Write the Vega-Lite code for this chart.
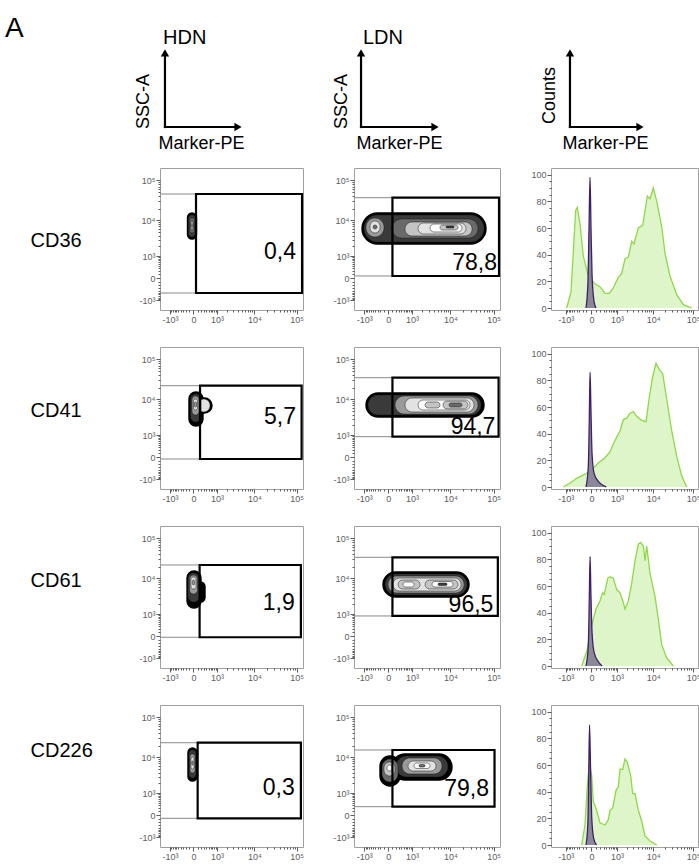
{
"$schema":"https://vega.github.io/schema/vega-lite/v6.json",
"padding":0,
"autosize":{"type":"pad"},
"background":"#ffffff",
"config":{
 "font":"Liberation Sans",
 "view":{"stroke":"#a0a0a0","strokeWidth":1},
 "axis":{"grid":false,"labelColor":"#606060","labelFontSize":9,"labelFont":"Liberation Sans","tickColor":"#333333","tickWidth":0.8,"domainColor":"#888888","labelOverlap":false,"labelFlush":false,"labelBound":false,"labelPadding":1,"titleFont":"Liberation Sans","titleFontWeight":"normal","titleColor":"#000000"},
 "title":{"font":"Liberation Sans","fontWeight":"normal","color":"#000000"}
},
"datasets":{
 "arrows":[{"x":0,"y":0,"x2":1,"y2":0,"head":"triangle-right"},{"x":0,"y":0,"x2":0,"y2":1,"head":"triangle-up"}],
 "dots":[
  {"p":"CD36 HDN","k":"c","x":-151,"x2":70,"y":3256,"y2":15450,"lvl":0},
  {"p":"CD36 HDN","k":"c","x":-124,"x2":46,"y":3694,"y2":13760,"lvl":1},
  {"p":"CD36 HDN","k":"c","x":-94,"x2":23,"y":4729,"y2":11540,"lvl":2},
  {"p":"CD36 HDN","k":"c","x":-69,"x2":0,"y":5670,"y2":9690,"lvl":3},
  {"p":"CD36 HDN","k":"c","x":-49,"x2":-17,"y":6800,"y2":8110,"lvl":4},
  {"p":"CD36 HDN","k":"l","x":-2000,"x2":58,"y":45800},
  {"p":"CD36 HDN","k":"l","x":-2000,"x2":58,"y":-521},
  {"p":"CD36 HDN","k":"g","x":58,"x2":133000,"y":-521,"y2":45800},
  {"p":"CD36 HDN","k":"t","x":96000,"y":780,"label":"0,4"},
  {"p":"CD36 LDN","k":"c","x":-1178,"x2":67100,"y":2360,"y2":15450,"lvl":0},
  {"p":"CD36 LDN","k":"c","x":-1019,"x2":60400,"y":2684,"y2":13760,"lvl":1},
  {"p":"CD36 LDN","k":"c","x":-880,"x2":-98,"y":3694,"y2":11540,"lvl":3},
  {"p":"CD36 LDN","k":"c","x":-638,"x2":-214,"y":4729,"y2":9690,"lvl":5},
  {"p":"CD36 LDN","k":"c","x":-485,"x2":-318,"y":6028,"y2":7650,"lvl":2},
  {"p":"CD36 LDN","k":"c","x":89,"x2":43960,"y":3460,"y2":10900,"lvl":2},
  {"p":"CD36 LDN","k":"c","x":566,"x2":32040,"y":3926,"y2":9130,"lvl":4},
  {"p":"CD36 LDN","k":"c","x":1510,"x2":23280,"y":4444,"y2":8616,"lvl":5},
  {"p":"CD36 LDN","k":"c","x":3180,"x2":18790,"y":5020,"y2":8110,"lvl":6},
  {"p":"CD36 LDN","k":"c","x":5650,"x2":15160,"y":5670,"y2":7650,"lvl":4},
  {"p":"CD36 LDN","k":"c","x":7900,"x2":12220,"y":6390,"y2":7204,"lvl":1},
  {"p":"CD36 LDN","k":"l","x":-2000,"x2":100,"y":37100},
  {"p":"CD36 LDN","k":"l","x":-2000,"x2":100,"y":54},
  {"p":"CD36 LDN","k":"g","x":100,"x2":133000,"y":54,"y2":37100},
  {"p":"CD36 LDN","k":"t","x":119800,"y":237,"label":"78,8"},
  {"p":"CD41 HDN","k":"c","x":34,"x2":679,"y":4444,"y2":10900,"lvl":0},
  {"p":"CD41 HDN","k":"c","x":-109,"x2":265,"y":1928,"y2":15450,"lvl":0},
  {"p":"CD41 HDN","k":"c","x":97,"x2":568,"y":4729,"y2":10260,"lvl":5},
  {"p":"CD41 HDN","k":"c","x":-69,"x2":198,"y":2518,"y2":13760,"lvl":1},
  {"p":"CD41 HDN","k":"c","x":-33,"x2":138,"y":3926,"y2":12249,"lvl":3},
  {"p":"CD41 HDN","k":"c","x":0,"x2":97,"y":5340,"y2":10260,"lvl":5},
  {"p":"CD41 HDN","k":"c","x":23,"x2":70,"y":6390,"y2":8616,"lvl":3},
  {"p":"CD41 HDN","k":"l","x":-2000,"x2":168,"y":22200},
  {"p":"CD41 HDN","k":"l","x":-2000,"x2":168,"y":-42},
  {"p":"CD41 HDN","k":"g","x":168,"x2":130000,"y":-42,"y2":22200},
  {"p":"CD41 HDN","k":"t","x":96000,"y":2170,"label":"5,7"},
  {"p":"CD41 LDN","k":"c","x":-880,"x2":60400,"y":3460,"y2":14560,"lvl":0},
  {"p":"CD41 LDN","k":"c","x":-751,"x2":51600,"y":3926,"y2":12970,"lvl":1},
  {"p":"CD41 LDN","k":"c","x":173,"x2":43960,"y":4180,"y2":12249,"lvl":3},
  {"p":"CD41 LDN","k":"c","x":566,"x2":35560,"y":4729,"y2":10900,"lvl":5},
  {"p":"CD41 LDN","k":"c","x":1510,"x2":28770,"y":5340,"y2":9690,"lvl":6},
  {"p":"CD41 LDN","k":"c","x":2360,"x2":5650,"y":6028,"y2":8616,"lvl":4},
  {"p":"CD41 LDN","k":"c","x":6680,"x2":25900,"y":5670,"y2":9130,"lvl":4},
  {"p":"CD41 LDN","k":"c","x":9300,"x2":18790,"y":6390,"y2":8110,"lvl":2},
  {"p":"CD41 LDN","k":"l","x":-2000,"x2":100,"y":35100},
  {"p":"CD41 LDN","k":"l","x":-2000,"x2":100,"y":874},
  {"p":"CD41 LDN","k":"g","x":100,"x2":130000,"y":874,"y2":35100},
  {"p":"CD41 LDN","k":"t","x":110000,"y":1083,"label":"94,7"},
  {"p":"CD61 HDN","k":"c","x":58,"x2":341,"y":2360,"y2":8110,"lvl":0},
  {"p":"CD61 HDN","k":"c","x":-165,"x2":198,"y":1571,"y2":15450,"lvl":0},
  {"p":"CD61 HDN","k":"c","x":-137,"x2":152,"y":2360,"y2":13760,"lvl":1},
  {"p":"CD61 HDN","k":"c","x":-94,"x2":97,"y":3926,"y2":12249,"lvl":3},
  {"p":"CD61 HDN","k":"c","x":-57,"x2":58,"y":5340,"y2":10900,"lvl":5},
  {"p":"CD61 HDN","k":"c","x":-25,"x2":27,"y":6800,"y2":9130,"lvl":3},
  {"p":"CD61 HDN","k":"l","x":-2000,"x2":155,"y":21840},
  {"p":"CD61 HDN","k":"l","x":-2000,"x2":155,"y":-24},
  {"p":"CD61 HDN","k":"g","x":155,"x2":125000,"y":-24,"y2":21840},
  {"p":"CD61 HDN","k":"t","x":90000,"y":1358,"label":"1,9"},
  {"p":"CD61 LDN","k":"c","x":-125,"x2":27280,"y":3256,"y2":14560,"lvl":0},
  {"p":"CD61 LDN","k":"c","x":-72,"x2":24560,"y":3694,"y2":12970,"lvl":1},
  {"p":"CD61 LDN","k":"c","x":-4,"x2":20920,"y":4180,"y2":11540,"lvl":3},
  {"p":"CD61 LDN","k":"c","x":115,"x2":17840,"y":4729,"y2":10260,"lvl":5},
  {"p":"CD61 LDN","k":"c","x":270,"x2":1722,"y":5340,"y2":9130,"lvl":4},
  {"p":"CD61 LDN","k":"c","x":471,"x2":1149,"y":6028,"y2":8110,"lvl":6},
  {"p":"CD61 LDN","k":"c","x":2360,"x2":15160,"y":5340,"y2":9130,"lvl":4},
  {"p":"CD61 LDN","k":"c","x":3580,"x2":11560,"y":6028,"y2":8360,"lvl":6},
  {"p":"CD61 LDN","k":"c","x":5060,"x2":8350,"y":6590,"y2":7650,"lvl":1},
  {"p":"CD61 LDN","k":"l","x":-2000,"x2":100,"y":33900},
  {"p":"CD61 LDN","k":"l","x":-2000,"x2":100,"y":855},
  {"p":"CD61 LDN","k":"g","x":100,"x2":125000,"y":855,"y2":33900},
  {"p":"CD61 LDN","k":"t","x":98700,"y":1140,"label":"96,5"},
  {"p":"CD226 HDN","k":"c","x":-137,"x2":83,"y":2360,"y2":17350,"lvl":0},
  {"p":"CD226 HDN","k":"c","x":-109,"x2":58,"y":2868,"y2":15450,"lvl":1},
  {"p":"CD226 HDN","k":"c","x":-82,"x2":34,"y":3926,"y2":12249,"lvl":3},
  {"p":"CD226 HDN","k":"c","x":-57,"x2":11,"y":5020,"y2":10260,"lvl":5},
  {"p":"CD226 HDN","k":"c","x":-38,"x2":-5,"y":6390,"y2":8110,"lvl":3},
  {"p":"CD226 HDN","k":"l","x":-2000,"x2":100,"y":23480},
  {"p":"CD226 HDN","k":"l","x":-2000,"x2":100,"y":-76},
  {"p":"CD226 HDN","k":"g","x":100,"x2":125000,"y":-76,"y2":23480},
  {"p":"CD226 HDN","k":"t","x":90000,"y":855,"label":"0,3"},
  {"p":"CD226 LDN","k":"c","x":-214,"x2":344,"y":1680,"y2":10900,"lvl":0},
  {"p":"CD226 LDN","k":"c","x":89,"x2":10960,"y":2518,"y2":12249,"lvl":0},
  {"p":"CD226 LDN","k":"c","x":203,"x2":8800,"y":3060,"y2":10900,"lvl":1},
  {"p":"CD226 LDN","k":"c","x":426,"x2":6330,"y":3694,"y2":9690,"lvl":3},
  {"p":"CD226 LDN","k":"c","x":730,"x2":4510,"y":4444,"y2":8110,"lvl":5},
  {"p":"CD226 LDN","k":"c","x":1149,"x2":3180,"y":5180,"y2":7204,"lvl":6},
  {"p":"CD226 LDN","k":"c","x":1614,"x2":2360,"y":5670,"y2":6590,"lvl":2},
  {"p":"CD226 LDN","k":"c","x":-152,"x2":270,"y":2213,"y2":9130,"lvl":2},
  {"p":"CD226 LDN","k":"c","x":-98,"x2":173,"y":3256,"y2":7650,"lvl":4},
  {"p":"CD226 LDN","k":"c","x":-25,"x2":89,"y":4444,"y2":6390,"lvl":6},
  {"p":"CD226 LDN","k":"l","x":-2000,"x2":100,"y":15450},
  {"p":"CD226 LDN","k":"l","x":-2000,"x2":100,"y":248},
  {"p":"CD226 LDN","k":"g","x":100,"x2":105000,"y":248,"y2":15450},
  {"p":"CD226 LDN","k":"t","x":78700,"y":780,"label":"79,8"}
 ],
 "hist":[
  {"p":"CD36","s":"marker","v":-937,"c":0},{"p":"CD36","s":"marker","v":-668,"c":12},{"p":"CD36","s":"marker","v":-548,"c":42},{"p":"CD36","s":"marker","v":-440,"c":73},{"p":"CD36","s":"marker","v":-375,"c":75.5},{"p":"CD36","s":"marker","v":-278,"c":63},{"p":"CD36","s":"marker","v":-179,"c":39},{"p":"CD36","s":"marker","v":-60,"c":24},{"p":"CD36","s":"marker","v":68,"c":18},{"p":"CD36","s":"marker","v":189,"c":16},{"p":"CD36","s":"marker","v":352,"c":11},{"p":"CD36","s":"marker","v":532,"c":11},{"p":"CD36","s":"marker","v":747,"c":15},{"p":"CD36","s":"marker","v":1094,"c":23},{"p":"CD36","s":"marker","v":1395,"c":26},{"p":"CD36","s":"marker","v":1746,"c":37},{"p":"CD36","s":"marker","v":2172,"c":38},{"p":"CD36","s":"marker","v":2700,"c":50},{"p":"CD36","s":"marker","v":3120,"c":48},{"p":"CD36","s":"marker","v":4077,"c":60},{"p":"CD36","s":"marker","v":5340,"c":62},{"p":"CD36","s":"marker","v":7030,"c":84},{"p":"CD36","s":"marker","v":8250,"c":82},{"p":"CD36","s":"marker","v":10030,"c":90},{"p":"CD36","s":"marker","v":12270,"c":80},{"p":"CD36","s":"marker","v":16420,"c":61},{"p":"CD36","s":"marker","v":19900,"c":41},{"p":"CD36","s":"marker","v":26500,"c":24},{"p":"CD36","s":"marker","v":39150,"c":10},{"p":"CD36","s":"marker","v":57270,"c":2.5},{"p":"CD36","s":"marker","v":92900,"c":0},
  {"p":"CD36","s":"iso","v":-110,"c":0},{"p":"CD36","s":"iso","v":-66,"c":20},{"p":"CD36","s":"iso","v":-45,"c":60},{"p":"CD36","s":"iso","v":-26,"c":98},{"p":"CD36","s":"iso","v":-8,"c":60},{"p":"CD36","s":"iso","v":10,"c":25},{"p":"CD36","s":"iso","v":47,"c":5},{"p":"CD36","s":"iso","v":89,"c":0},
  {"p":"CD41","s":"marker","v":-1203,"c":0},{"p":"CD41","s":"marker","v":-723,"c":3},{"p":"CD41","s":"marker","v":-398,"c":6.5},{"p":"CD41","s":"marker","v":-135,"c":9.6},{"p":"CD41","s":"marker","v":4,"c":13},{"p":"CD41","s":"marker","v":144,"c":18},{"p":"CD41","s":"marker","v":352,"c":22},{"p":"CD41","s":"marker","v":567,"c":26.5},{"p":"CD41","s":"marker","v":854,"c":35},{"p":"CD41","s":"marker","v":1235,"c":42},{"p":"CD41","s":"marker","v":1558,"c":50.6},{"p":"CD41","s":"marker","v":1955,"c":51.6},{"p":"CD41","s":"marker","v":2424,"c":55.4},{"p":"CD41","s":"marker","v":2989,"c":56.6},{"p":"CD41","s":"marker","v":3700,"c":53},{"p":"CD41","s":"marker","v":5022,"c":50},{"p":"CD41","s":"marker","v":6510,"c":49},{"p":"CD41","s":"marker","v":7930,"c":67.5},{"p":"CD41","s":"marker","v":9680,"c":83},{"p":"CD41","s":"marker","v":11760,"c":92.8},{"p":"CD41","s":"marker","v":14260,"c":88},{"p":"CD41","s":"marker","v":17400,"c":85},{"p":"CD41","s":"marker","v":21940,"c":66},{"p":"CD41","s":"marker","v":29340,"c":42},{"p":"CD41","s":"marker","v":39150,"c":23},{"p":"CD41","s":"marker","v":52200,"c":8.4},{"p":"CD41","s":"marker","v":69550,"c":0},
  {"p":"CD41","s":"iso","v":-110,"c":0},{"p":"CD41","s":"iso","v":-60,"c":15},{"p":"CD41","s":"iso","v":-40,"c":50},{"p":"CD41","s":"iso","v":-25,"c":86},{"p":"CD41","s":"iso","v":-10,"c":60},{"p":"CD41","s":"iso","v":10,"c":25},{"p":"CD41","s":"iso","v":50,"c":10},{"p":"CD41","s":"iso","v":150,"c":4},{"p":"CD41","s":"iso","v":300,"c":1},{"p":"CD41","s":"iso","v":400,"c":0},
  {"p":"CD61","s":"marker","v":-225,"c":0},{"p":"CD61","s":"marker","v":-94,"c":11},{"p":"CD61","s":"marker","v":4,"c":30.5},{"p":"CD61","s":"marker","v":89,"c":42.7},{"p":"CD61","s":"marker","v":189,"c":48.8},{"p":"CD61","s":"marker","v":270,"c":55},{"p":"CD61","s":"marker","v":325,"c":53.6},{"p":"CD61","s":"marker","v":460,"c":65.8},{"p":"CD61","s":"marker","v":567,"c":67},{"p":"CD61","s":"marker","v":747,"c":65.8},{"p":"CD61","s":"marker","v":971,"c":57.3},{"p":"CD61","s":"marker","v":1235,"c":55},{"p":"CD61","s":"marker","v":1558,"c":47.6},{"p":"CD61","s":"marker","v":1746,"c":42.7},{"p":"CD61","s":"marker","v":2172,"c":48.8},{"p":"CD61","s":"marker","v":2700,"c":62},{"p":"CD61","s":"marker","v":3324,"c":79},{"p":"CD61","s":"marker","v":4077,"c":91.4},{"p":"CD61","s":"marker","v":4725,"c":92.7},{"p":"CD61","s":"marker","v":5535,"c":90},{"p":"CD61","s":"marker","v":6130,"c":79},{"p":"CD61","s":"marker","v":6780,"c":90},{"p":"CD61","s":"marker","v":8250,"c":69.5},{"p":"CD61","s":"marker","v":11100,"c":52},{"p":"CD61","s":"marker","v":13470,"c":35},{"p":"CD61","s":"marker","v":16420,"c":16},{"p":"CD61","s":"marker","v":21940,"c":6},{"p":"CD61","s":"marker","v":32140,"c":0},
  {"p":"CD61","s":"iso","v":-110,"c":0},{"p":"CD61","s":"iso","v":-60,"c":15},{"p":"CD61","s":"iso","v":-40,"c":50},{"p":"CD61","s":"iso","v":-25,"c":82},{"p":"CD61","s":"iso","v":-10,"c":55},{"p":"CD61","s":"iso","v":10,"c":25},{"p":"CD61","s":"iso","v":50,"c":10},{"p":"CD61","s":"iso","v":150,"c":3},{"p":"CD61","s":"iso","v":250,"c":0},
  {"p":"CD226","s":"marker","v":-225,"c":0},{"p":"CD226","s":"marker","v":-135,"c":15},{"p":"CD226","s":"marker","v":-80,"c":44.6},{"p":"CD226","s":"marker","v":-40,"c":61.7},{"p":"CD226","s":"marker","v":4,"c":52},{"p":"CD226","s":"marker","v":34,"c":32.4},{"p":"CD226","s":"marker","v":89,"c":27.6},{"p":"CD226","s":"marker","v":144,"c":21.4},{"p":"CD226","s":"marker","v":189,"c":16.6},{"p":"CD226","s":"marker","v":352,"c":15},{"p":"CD226","s":"marker","v":487,"c":19},{"p":"CD226","s":"marker","v":567,"c":26},{"p":"CD226","s":"marker","v":712,"c":27.6},{"p":"CD226","s":"marker","v":922,"c":41},{"p":"CD226","s":"marker","v":1094,"c":43.6},{"p":"CD226","s":"marker","v":1235,"c":56.8},{"p":"CD226","s":"marker","v":1494,"c":56.8},{"p":"CD226","s":"marker","v":1746,"c":64.6},{"p":"CD226","s":"marker","v":2034,"c":62},{"p":"CD226","s":"marker","v":2532,"c":52},{"p":"CD226","s":"marker","v":2877,"c":38.5},{"p":"CD226","s":"marker","v":3324,"c":38.5},{"p":"CD226","s":"marker","v":4077,"c":26.3},{"p":"CD226","s":"marker","v":5022,"c":17.8},{"p":"CD226","s":"marker","v":6130,"c":6.8},{"p":"CD226","s":"marker","v":8250,"c":3},{"p":"CD226","s":"marker","v":12270,"c":0},
  {"p":"CD226","s":"iso","v":-110,"c":0},{"p":"CD226","s":"iso","v":-70,"c":15},{"p":"CD226","s":"iso","v":-50,"c":55},{"p":"CD226","s":"iso","v":-35,"c":90},{"p":"CD226","s":"iso","v":-15,"c":55},{"p":"CD226","s":"iso","v":5,"c":20},{"p":"CD226","s":"iso","v":40,"c":5},{"p":"CD226","s":"iso","v":100,"c":0}
 ]
},
"columns":4,
"spacing":{"row":37,"column":51},
"align":"each",
"bounds":"flush",
"concat":[
 {"width":109,"height":131,"view":{"stroke":null},"title":{"text":"A","anchor":"start","fontSize":28,"offset":-65,"baseline":"alphabetic","dx":5},"data":{"values":[{"t":""}]},"mark":"text","encoding":{"text":{"field":"t"}}},
 {"width":143,"height":131,"view":{"stroke":null},"title":{"text":"HDN","anchor":"start","frame":"group","fontSize":20,"offset":-64,"baseline":"alphabetic","dx":3},"data":{"name":"arrows"},
  "layer":[
   {"mark":{"type":"rule","color":"#000000","strokeWidth":2.2,"strokeCap":"square"},
    "encoding":{"x":{"field":"x","type":"quantitative","scale":{"domain":[-0.068,1.89],"nice":false,"zero":false},"axis":{"title":"Marker-PE","domain":false,"ticks":false,"labels":false,"titleX":-2,"titleY":17,"titleAlign":"left","titleBaseline":"alphabetic","titleFontSize":18}},"x2":{"field":"x2"},
     "y":{"field":"y","type":"quantitative","scale":{"domain":[-0.054,1.716],"nice":false,"zero":false},"axis":{"title":"SSC-A","domain":false,"ticks":false,"labels":false,"titleAngle":270,"titleX":-17,"titleY":101,"titleAlign":"center","titleBaseline":"middle","titleFontSize":18}},"y2":{"field":"y2"}}},
   {"mark":{"type":"point","filled":true,"color":"#000000","size":70,"opacity":1},
    "encoding":{"x":{"field":"x2","type":"quantitative"},"y":{"field":"y2","type":"quantitative"},"shape":{"field":"head","type":"nominal","scale":null}}}
  ]},
 {"width":146,"height":131,"view":{"stroke":null},"title":{"text":"LDN","anchor":"start","frame":"group","fontSize":20,"offset":-64,"baseline":"alphabetic","dx":9},"data":{"name":"arrows"},
  "layer":[
   {"mark":{"type":"rule","color":"#000000","strokeWidth":2.2,"strokeCap":"square"},
    "encoding":{"x":{"field":"x","type":"quantitative","scale":{"domain":[-0.095,1.878],"nice":false,"zero":false},"axis":{"title":"Marker-PE","domain":false,"ticks":false,"labels":false,"titleX":2,"titleY":17,"titleAlign":"left","titleBaseline":"alphabetic","titleFontSize":18}},"x2":{"field":"x2"},
     "y":{"field":"y","type":"quantitative","scale":{"domain":[-0.054,1.716],"nice":false,"zero":false},"axis":{"title":"SSC-A","domain":false,"ticks":false,"labels":false,"titleAngle":270,"titleX":-13,"titleY":101,"titleAlign":"center","titleBaseline":"middle","titleFontSize":18}},"y2":{"field":"y2"}}},
   {"mark":{"type":"point","filled":true,"color":"#000000","size":70,"opacity":1},
    "encoding":{"x":{"field":"x2","type":"quantitative"},"y":{"field":"y2","type":"quantitative"},"shape":{"field":"head","type":"nominal","scale":null}}}
  ]},
 {"width":147,"height":131,"view":{"stroke":null},"data":{"name":"arrows"},
  "layer":[
   {"mark":{"type":"rule","color":"#000000","strokeWidth":2.2,"strokeCap":"square"},
    "encoding":{"x":{"field":"x","type":"quantitative","scale":{"domain":[-0.271,1.829],"nice":false,"zero":false},"axis":{"title":"Marker-PE","domain":false,"ticks":false,"labels":false,"titleX":11,"titleY":17,"titleAlign":"left","titleBaseline":"alphabetic","titleFontSize":18}},"x2":{"field":"x2"},
     "y":{"field":"y","type":"quantitative","scale":{"domain":[-0.054,1.716],"nice":false,"zero":false},"axis":{"title":"Counts","domain":false,"ticks":false,"labels":false,"titleAngle":270,"titleX":-2,"titleY":95,"titleAlign":"center","titleBaseline":"middle","titleFontSize":18}},"y2":{"field":"y2"}}},
   {"mark":{"type":"point","filled":true,"color":"#000000","size":70,"opacity":1},
    "encoding":{"x":{"field":"x2","type":"quantitative"},"y":{"field":"y2","type":"quantitative"},"shape":{"field":"head","type":"nominal","scale":null}}}
  ]},

 {"width":109,"height":142,"view":{"stroke":null},"data":{"values":[{"t":""}]},"mark":"text","encoding":{"text":{"field":"t"}}},
 {"width":143,"height":142,"data":{"name":"dots"},"transform":[{"filter":"datum.p=='CD36 HDN'"}],
  "encoding":{"x":{"field":"x","type":"quantitative","scale":{"type":"symlog","constant":400,"domain":[-2000,140000],"nice":false,"zero":false},"axis":{"values":[-1000,-900,-800,-700,-600,-500,-400,-300,-200,-100,0,100,200,300,400,500,600,700,800,900,1000,2000,3000,4000,5000,6000,7000,8000,9000,10000,20000,30000,40000,50000,60000,70000,80000,90000,100000],"labelExpr":"datum.value==100000?'10⁵':datum.value==10000?'10⁴':datum.value==1000?'10³':datum.value==0?'0':datum.value==-1000?'-10³':''","tickSize":{"condition":{"test":"indexof([-1000,0,1000,10000,100000],datum.value)>=0","value":4},"value":2},"domain":false,"title":null}},
   "y":{"field":"y","type":"quantitative","scale":{"type":"symlog","constant":400,"domain":[-2000,200000],"nice":false,"zero":false},"axis":{"values":[-1000,-900,-800,-700,-600,-500,-400,-300,-200,-100,0,100,200,300,400,500,600,700,800,900,1000,2000,3000,4000,5000,6000,7000,8000,9000,10000,20000,30000,40000,50000,60000,70000,80000,90000,100000],"labelExpr":"datum.value==100000?'10⁵':datum.value==10000?'10⁴':datum.value==1000?'10³':datum.value==0?'0':datum.value==-1000?'-10³':''","tickSize":{"condition":{"test":"indexof([-1000,0,1000,10000,100000],datum.value)>=0","value":4},"value":2},"domain":false,"title":"CD36","titleAngle":0,"titleAlign":"left","titleBaseline":"middle","titleX":-130,"titleY":72,"titleFontSize":20}}},
  "layer":[
   {"transform":[{"filter":"datum.k=='c'"}],"mark":{"type":"rect","cornerRadius":80},"encoding":{"x2":{"field":"x2"},"y2":{"field":"y2"},"fill":{"field":"lvl","type":"ordinal","scale":{"domain":[0,1,2,3,4,5,6],"range":["#000000","#3a3a3a","#6a6a6a","#9a9a9a","#c4c4c4","#e2e2e2","#fbfbfb"]},"legend":null},"stroke":{"condition":{"test":"datum.lvl==0","value":"#000000"},"value":"#1a1a1a"},"strokeWidth":{"condition":{"test":"datum.lvl==0","value":1.4},"value":0.5}}},
   {"transform":[{"filter":"datum.k=='l'"}],"mark":{"type":"rule","color":"#8a8a8a","strokeWidth":1},"encoding":{"x2":{"field":"x2"}}},
   {"transform":[{"filter":"datum.k=='g'"}],"mark":{"type":"rect","filled":false,"stroke":"#000000","strokeWidth":2.2},"encoding":{"x2":{"field":"x2"},"y2":{"field":"y2"}}},
   {"transform":[{"filter":"datum.k=='t'"}],"mark":{"type":"text","align":"right","baseline":"alphabetic","fontSize":23,"color":"#000000"},"encoding":{"text":{"field":"label"}}}
  ]},
 {"width":146,"height":142,"data":{"name":"dots"},"transform":[{"filter":"datum.p=='CD36 LDN'"}],
  "encoding":{"x":{"field":"x","type":"quantitative","scale":{"type":"symlog","constant":400,"domain":[-2000,140000],"nice":false,"zero":false},"axis":{"values":[-1000,-900,-800,-700,-600,-500,-400,-300,-200,-100,0,100,200,300,400,500,600,700,800,900,1000,2000,3000,4000,5000,6000,7000,8000,9000,10000,20000,30000,40000,50000,60000,70000,80000,90000,100000],"labelExpr":"datum.value==100000?'10⁵':datum.value==10000?'10⁴':datum.value==1000?'10³':datum.value==0?'0':datum.value==-1000?'-10³':''","tickSize":{"condition":{"test":"indexof([-1000,0,1000,10000,100000],datum.value)>=0","value":4},"value":2},"domain":false,"title":null}},
   "y":{"field":"y","type":"quantitative","scale":{"type":"symlog","constant":400,"domain":[-2000,200000],"nice":false,"zero":false},"axis":{"values":[-1000,-900,-800,-700,-600,-500,-400,-300,-200,-100,0,100,200,300,400,500,600,700,800,900,1000,2000,3000,4000,5000,6000,7000,8000,9000,10000,20000,30000,40000,50000,60000,70000,80000,90000,100000],"labelExpr":"datum.value==100000?'10⁵':datum.value==10000?'10⁴':datum.value==1000?'10³':datum.value==0?'0':datum.value==-1000?'-10³':''","tickSize":{"condition":{"test":"indexof([-1000,0,1000,10000,100000],datum.value)>=0","value":4},"value":2},"domain":false,"title":null}}},
  "layer":[
   {"transform":[{"filter":"datum.k=='c'"}],"mark":{"type":"rect","cornerRadius":80},"encoding":{"x2":{"field":"x2"},"y2":{"field":"y2"},"fill":{"field":"lvl","type":"ordinal","scale":{"domain":[0,1,2,3,4,5,6],"range":["#000000","#3a3a3a","#6a6a6a","#9a9a9a","#c4c4c4","#e2e2e2","#fbfbfb"]},"legend":null},"stroke":{"condition":{"test":"datum.lvl==0","value":"#000000"},"value":"#1a1a1a"},"strokeWidth":{"condition":{"test":"datum.lvl==0","value":1.4},"value":0.5}}},
   {"transform":[{"filter":"datum.k=='l'"}],"mark":{"type":"rule","color":"#8a8a8a","strokeWidth":1},"encoding":{"x2":{"field":"x2"}}},
   {"transform":[{"filter":"datum.k=='g'"}],"mark":{"type":"rect","filled":false,"stroke":"#000000","strokeWidth":2.2},"encoding":{"x2":{"field":"x2"},"y2":{"field":"y2"}}},
   {"transform":[{"filter":"datum.k=='t'"}],"mark":{"type":"text","align":"right","baseline":"alphabetic","fontSize":23,"color":"#000000"},"encoding":{"text":{"field":"label"}}}
  ]},
 {"width":147,"height":142,"data":{"name":"hist"},"transform":[{"filter":"datum.p=='CD36'"}],
  "encoding":{"x":{"field":"v","type":"quantitative","scale":{"type":"symlog","constant":300,"domain":[-2740,133000],"nice":false,"zero":false},"axis":{"values":[-1000,-900,-800,-700,-600,-500,-400,-300,-200,-100,0,100,200,300,400,500,600,700,800,900,1000,2000,3000,4000,5000,6000,7000,8000,9000,10000,20000,30000,40000,50000,60000,70000,80000,90000,100000],"labelExpr":"datum.value==100000?'10⁵':datum.value==10000?'10⁴':datum.value==1000?'10³':datum.value==0?'0':datum.value==-1000?'-10³':''","tickSize":{"condition":{"test":"indexof([-1000,0,1000,10000,100000],datum.value)>=0","value":4},"value":2},"domain":false,"title":null}},
   "y":{"field":"c","type":"quantitative","scale":{"domain":[-1.5,105],"nice":false},"axis":{"values":[0,5,10,15,20,25,30,35,40,45,50,55,60,65,70,75,80,85,90,95,100],"labelExpr":"datum.value%20==0?datum.label:''","tickSize":{"condition":{"test":"datum.value%20==0","value":4},"value":2},"domain":false,"title":null}}},
  "layer":[
   {"transform":[{"filter":"datum.s=='marker'"}],"mark":{"type":"area","color":"#def5c9","opacity":1,"line":{"color":"#8fd947","strokeWidth":1.3}}},
   {"transform":[{"filter":"datum.s=='iso'"}],"mark":{"type":"area","color":"#8c8996","opacity":1,"interpolate":"monotone","line":{"color":"#3e1f6e","strokeWidth":1.3}}}
  ]},

 {"width":109,"height":142,"view":{"stroke":null},"data":{"values":[{"t":""}]},"mark":"text","encoding":{"text":{"field":"t"}}},
 {"width":143,"height":142,"data":{"name":"dots"},"transform":[{"filter":"datum.p=='CD41 HDN'"}],
  "encoding":{"x":{"field":"x","type":"quantitative","scale":{"type":"symlog","constant":400,"domain":[-2000,140000],"nice":false,"zero":false},"axis":{"values":[-1000,-900,-800,-700,-600,-500,-400,-300,-200,-100,0,100,200,300,400,500,600,700,800,900,1000,2000,3000,4000,5000,6000,7000,8000,9000,10000,20000,30000,40000,50000,60000,70000,80000,90000,100000],"labelExpr":"datum.value==100000?'10⁵':datum.value==10000?'10⁴':datum.value==1000?'10³':datum.value==0?'0':datum.value==-1000?'-10³':''","tickSize":{"condition":{"test":"indexof([-1000,0,1000,10000,100000],datum.value)>=0","value":4},"value":2},"domain":false,"title":null}},
   "y":{"field":"y","type":"quantitative","scale":{"type":"symlog","constant":400,"domain":[-2000,200000],"nice":false,"zero":false},"axis":{"values":[-1000,-900,-800,-700,-600,-500,-400,-300,-200,-100,0,100,200,300,400,500,600,700,800,900,1000,2000,3000,4000,5000,6000,7000,8000,9000,10000,20000,30000,40000,50000,60000,70000,80000,90000,100000],"labelExpr":"datum.value==100000?'10⁵':datum.value==10000?'10⁴':datum.value==1000?'10³':datum.value==0?'0':datum.value==-1000?'-10³':''","tickSize":{"condition":{"test":"indexof([-1000,0,1000,10000,100000],datum.value)>=0","value":4},"value":2},"domain":false,"title":"CD41","titleAngle":0,"titleAlign":"left","titleBaseline":"middle","titleX":-130,"titleY":63,"titleFontSize":20}}},
  "layer":[
   {"transform":[{"filter":"datum.k=='c'"}],"mark":{"type":"rect","cornerRadius":80},"encoding":{"x2":{"field":"x2"},"y2":{"field":"y2"},"fill":{"field":"lvl","type":"ordinal","scale":{"domain":[0,1,2,3,4,5,6],"range":["#000000","#3a3a3a","#6a6a6a","#9a9a9a","#c4c4c4","#e2e2e2","#fbfbfb"]},"legend":null},"stroke":{"condition":{"test":"datum.lvl==0","value":"#000000"},"value":"#1a1a1a"},"strokeWidth":{"condition":{"test":"datum.lvl==0","value":1.4},"value":0.5}}},
   {"transform":[{"filter":"datum.k=='l'"}],"mark":{"type":"rule","color":"#8a8a8a","strokeWidth":1},"encoding":{"x2":{"field":"x2"}}},
   {"transform":[{"filter":"datum.k=='g'"}],"mark":{"type":"rect","filled":false,"stroke":"#000000","strokeWidth":2.2},"encoding":{"x2":{"field":"x2"},"y2":{"field":"y2"}}},
   {"transform":[{"filter":"datum.k=='t'"}],"mark":{"type":"text","align":"right","baseline":"alphabetic","fontSize":23,"color":"#000000"},"encoding":{"text":{"field":"label"}}}
  ]},
 {"width":146,"height":142,"data":{"name":"dots"},"transform":[{"filter":"datum.p=='CD41 LDN'"}],
  "encoding":{"x":{"field":"x","type":"quantitative","scale":{"type":"symlog","constant":400,"domain":[-2000,140000],"nice":false,"zero":false},"axis":{"values":[-1000,-900,-800,-700,-600,-500,-400,-300,-200,-100,0,100,200,300,400,500,600,700,800,900,1000,2000,3000,4000,5000,6000,7000,8000,9000,10000,20000,30000,40000,50000,60000,70000,80000,90000,100000],"labelExpr":"datum.value==100000?'10⁵':datum.value==10000?'10⁴':datum.value==1000?'10³':datum.value==0?'0':datum.value==-1000?'-10³':''","tickSize":{"condition":{"test":"indexof([-1000,0,1000,10000,100000],datum.value)>=0","value":4},"value":2},"domain":false,"title":null}},
   "y":{"field":"y","type":"quantitative","scale":{"type":"symlog","constant":400,"domain":[-2000,200000],"nice":false,"zero":false},"axis":{"values":[-1000,-900,-800,-700,-600,-500,-400,-300,-200,-100,0,100,200,300,400,500,600,700,800,900,1000,2000,3000,4000,5000,6000,7000,8000,9000,10000,20000,30000,40000,50000,60000,70000,80000,90000,100000],"labelExpr":"datum.value==100000?'10⁵':datum.value==10000?'10⁴':datum.value==1000?'10³':datum.value==0?'0':datum.value==-1000?'-10³':''","tickSize":{"condition":{"test":"indexof([-1000,0,1000,10000,100000],datum.value)>=0","value":4},"value":2},"domain":false,"title":null}}},
  "layer":[
   {"transform":[{"filter":"datum.k=='c'"}],"mark":{"type":"rect","cornerRadius":80},"encoding":{"x2":{"field":"x2"},"y2":{"field":"y2"},"fill":{"field":"lvl","type":"ordinal","scale":{"domain":[0,1,2,3,4,5,6],"range":["#000000","#3a3a3a","#6a6a6a","#9a9a9a","#c4c4c4","#e2e2e2","#fbfbfb"]},"legend":null},"stroke":{"condition":{"test":"datum.lvl==0","value":"#000000"},"value":"#1a1a1a"},"strokeWidth":{"condition":{"test":"datum.lvl==0","value":1.4},"value":0.5}}},
   {"transform":[{"filter":"datum.k=='l'"}],"mark":{"type":"rule","color":"#8a8a8a","strokeWidth":1},"encoding":{"x2":{"field":"x2"}}},
   {"transform":[{"filter":"datum.k=='g'"}],"mark":{"type":"rect","filled":false,"stroke":"#000000","strokeWidth":2.2},"encoding":{"x2":{"field":"x2"},"y2":{"field":"y2"}}},
   {"transform":[{"filter":"datum.k=='t'"}],"mark":{"type":"text","align":"right","baseline":"alphabetic","fontSize":23,"color":"#000000"},"encoding":{"text":{"field":"label"}}}
  ]},
 {"width":147,"height":142,"data":{"name":"hist"},"transform":[{"filter":"datum.p=='CD41'"}],
  "encoding":{"x":{"field":"v","type":"quantitative","scale":{"type":"symlog","constant":300,"domain":[-2740,133000],"nice":false,"zero":false},"axis":{"values":[-1000,-900,-800,-700,-600,-500,-400,-300,-200,-100,0,100,200,300,400,500,600,700,800,900,1000,2000,3000,4000,5000,6000,7000,8000,9000,10000,20000,30000,40000,50000,60000,70000,80000,90000,100000],"labelExpr":"datum.value==100000?'10⁵':datum.value==10000?'10⁴':datum.value==1000?'10³':datum.value==0?'0':datum.value==-1000?'-10³':''","tickSize":{"condition":{"test":"indexof([-1000,0,1000,10000,100000],datum.value)>=0","value":4},"value":2},"domain":false,"title":null}},
   "y":{"field":"c","type":"quantitative","scale":{"domain":[-1.5,105],"nice":false},"axis":{"values":[0,5,10,15,20,25,30,35,40,45,50,55,60,65,70,75,80,85,90,95,100],"labelExpr":"datum.value%20==0?datum.label:''","tickSize":{"condition":{"test":"datum.value%20==0","value":4},"value":2},"domain":false,"title":null}}},
  "layer":[
   {"transform":[{"filter":"datum.s=='marker'"}],"mark":{"type":"area","color":"#def5c9","opacity":1,"line":{"color":"#8fd947","strokeWidth":1.3}}},
   {"transform":[{"filter":"datum.s=='iso'"}],"mark":{"type":"area","color":"#8c8996","opacity":1,"interpolate":"monotone","line":{"color":"#3e1f6e","strokeWidth":1.3}}}
  ]},

 {"width":109,"height":142,"view":{"stroke":null},"data":{"values":[{"t":""}]},"mark":"text","encoding":{"text":{"field":"t"}}},
 {"width":143,"height":142,"data":{"name":"dots"},"transform":[{"filter":"datum.p=='CD61 HDN'"}],
  "encoding":{"x":{"field":"x","type":"quantitative","scale":{"type":"symlog","constant":400,"domain":[-2000,140000],"nice":false,"zero":false},"axis":{"values":[-1000,-900,-800,-700,-600,-500,-400,-300,-200,-100,0,100,200,300,400,500,600,700,800,900,1000,2000,3000,4000,5000,6000,7000,8000,9000,10000,20000,30000,40000,50000,60000,70000,80000,90000,100000],"labelExpr":"datum.value==100000?'10⁵':datum.value==10000?'10⁴':datum.value==1000?'10³':datum.value==0?'0':datum.value==-1000?'-10³':''","tickSize":{"condition":{"test":"indexof([-1000,0,1000,10000,100000],datum.value)>=0","value":4},"value":2},"domain":false,"title":null}},
   "y":{"field":"y","type":"quantitative","scale":{"type":"symlog","constant":400,"domain":[-2000,200000],"nice":false,"zero":false},"axis":{"values":[-1000,-900,-800,-700,-600,-500,-400,-300,-200,-100,0,100,200,300,400,500,600,700,800,900,1000,2000,3000,4000,5000,6000,7000,8000,9000,10000,20000,30000,40000,50000,60000,70000,80000,90000,100000],"labelExpr":"datum.value==100000?'10⁵':datum.value==10000?'10⁴':datum.value==1000?'10³':datum.value==0?'0':datum.value==-1000?'-10³':''","tickSize":{"condition":{"test":"indexof([-1000,0,1000,10000,100000],datum.value)>=0","value":4},"value":2},"domain":false,"title":"CD61","titleAngle":0,"titleAlign":"left","titleBaseline":"middle","titleX":-130,"titleY":54,"titleFontSize":20}}},
  "layer":[
   {"transform":[{"filter":"datum.k=='c'"}],"mark":{"type":"rect","cornerRadius":80},"encoding":{"x2":{"field":"x2"},"y2":{"field":"y2"},"fill":{"field":"lvl","type":"ordinal","scale":{"domain":[0,1,2,3,4,5,6],"range":["#000000","#3a3a3a","#6a6a6a","#9a9a9a","#c4c4c4","#e2e2e2","#fbfbfb"]},"legend":null},"stroke":{"condition":{"test":"datum.lvl==0","value":"#000000"},"value":"#1a1a1a"},"strokeWidth":{"condition":{"test":"datum.lvl==0","value":1.4},"value":0.5}}},
   {"transform":[{"filter":"datum.k=='l'"}],"mark":{"type":"rule","color":"#8a8a8a","strokeWidth":1},"encoding":{"x2":{"field":"x2"}}},
   {"transform":[{"filter":"datum.k=='g'"}],"mark":{"type":"rect","filled":false,"stroke":"#000000","strokeWidth":2.2},"encoding":{"x2":{"field":"x2"},"y2":{"field":"y2"}}},
   {"transform":[{"filter":"datum.k=='t'"}],"mark":{"type":"text","align":"right","baseline":"alphabetic","fontSize":23,"color":"#000000"},"encoding":{"text":{"field":"label"}}}
  ]},
 {"width":146,"height":142,"data":{"name":"dots"},"transform":[{"filter":"datum.p=='CD61 LDN'"}],
  "encoding":{"x":{"field":"x","type":"quantitative","scale":{"type":"symlog","constant":400,"domain":[-2000,140000],"nice":false,"zero":false},"axis":{"values":[-1000,-900,-800,-700,-600,-500,-400,-300,-200,-100,0,100,200,300,400,500,600,700,800,900,1000,2000,3000,4000,5000,6000,7000,8000,9000,10000,20000,30000,40000,50000,60000,70000,80000,90000,100000],"labelExpr":"datum.value==100000?'10⁵':datum.value==10000?'10⁴':datum.value==1000?'10³':datum.value==0?'0':datum.value==-1000?'-10³':''","tickSize":{"condition":{"test":"indexof([-1000,0,1000,10000,100000],datum.value)>=0","value":4},"value":2},"domain":false,"title":null}},
   "y":{"field":"y","type":"quantitative","scale":{"type":"symlog","constant":400,"domain":[-2000,200000],"nice":false,"zero":false},"axis":{"values":[-1000,-900,-800,-700,-600,-500,-400,-300,-200,-100,0,100,200,300,400,500,600,700,800,900,1000,2000,3000,4000,5000,6000,7000,8000,9000,10000,20000,30000,40000,50000,60000,70000,80000,90000,100000],"labelExpr":"datum.value==100000?'10⁵':datum.value==10000?'10⁴':datum.value==1000?'10³':datum.value==0?'0':datum.value==-1000?'-10³':''","tickSize":{"condition":{"test":"indexof([-1000,0,1000,10000,100000],datum.value)>=0","value":4},"value":2},"domain":false,"title":null}}},
  "layer":[
   {"transform":[{"filter":"datum.k=='c'"}],"mark":{"type":"rect","cornerRadius":80},"encoding":{"x2":{"field":"x2"},"y2":{"field":"y2"},"fill":{"field":"lvl","type":"ordinal","scale":{"domain":[0,1,2,3,4,5,6],"range":["#000000","#3a3a3a","#6a6a6a","#9a9a9a","#c4c4c4","#e2e2e2","#fbfbfb"]},"legend":null},"stroke":{"condition":{"test":"datum.lvl==0","value":"#000000"},"value":"#1a1a1a"},"strokeWidth":{"condition":{"test":"datum.lvl==0","value":1.4},"value":0.5}}},
   {"transform":[{"filter":"datum.k=='l'"}],"mark":{"type":"rule","color":"#8a8a8a","strokeWidth":1},"encoding":{"x2":{"field":"x2"}}},
   {"transform":[{"filter":"datum.k=='g'"}],"mark":{"type":"rect","filled":false,"stroke":"#000000","strokeWidth":2.2},"encoding":{"x2":{"field":"x2"},"y2":{"field":"y2"}}},
   {"transform":[{"filter":"datum.k=='t'"}],"mark":{"type":"text","align":"right","baseline":"alphabetic","fontSize":23,"color":"#000000"},"encoding":{"text":{"field":"label"}}}
  ]},
 {"width":147,"height":142,"data":{"name":"hist"},"transform":[{"filter":"datum.p=='CD61'"}],
  "encoding":{"x":{"field":"v","type":"quantitative","scale":{"type":"symlog","constant":300,"domain":[-2740,133000],"nice":false,"zero":false},"axis":{"values":[-1000,-900,-800,-700,-600,-500,-400,-300,-200,-100,0,100,200,300,400,500,600,700,800,900,1000,2000,3000,4000,5000,6000,7000,8000,9000,10000,20000,30000,40000,50000,60000,70000,80000,90000,100000],"labelExpr":"datum.value==100000?'10⁵':datum.value==10000?'10⁴':datum.value==1000?'10³':datum.value==0?'0':datum.value==-1000?'-10³':''","tickSize":{"condition":{"test":"indexof([-1000,0,1000,10000,100000],datum.value)>=0","value":4},"value":2},"domain":false,"title":null}},
   "y":{"field":"c","type":"quantitative","scale":{"domain":[-1.5,105],"nice":false},"axis":{"values":[0,5,10,15,20,25,30,35,40,45,50,55,60,65,70,75,80,85,90,95,100],"labelExpr":"datum.value%20==0?datum.label:''","tickSize":{"condition":{"test":"datum.value%20==0","value":4},"value":2},"domain":false,"title":null}}},
  "layer":[
   {"transform":[{"filter":"datum.s=='marker'"}],"mark":{"type":"area","color":"#def5c9","opacity":1,"line":{"color":"#8fd947","strokeWidth":1.3}}},
   {"transform":[{"filter":"datum.s=='iso'"}],"mark":{"type":"area","color":"#8c8996","opacity":1,"interpolate":"monotone","line":{"color":"#3e1f6e","strokeWidth":1.3}}}
  ]},

 {"width":109,"height":142,"view":{"stroke":null},"data":{"values":[{"t":""}]},"mark":"text","encoding":{"text":{"field":"t"}}},
 {"width":143,"height":142,"data":{"name":"dots"},"transform":[{"filter":"datum.p=='CD226 HDN'"}],
  "encoding":{"x":{"field":"x","type":"quantitative","scale":{"type":"symlog","constant":400,"domain":[-2000,140000],"nice":false,"zero":false},"axis":{"values":[-1000,-900,-800,-700,-600,-500,-400,-300,-200,-100,0,100,200,300,400,500,600,700,800,900,1000,2000,3000,4000,5000,6000,7000,8000,9000,10000,20000,30000,40000,50000,60000,70000,80000,90000,100000],"labelExpr":"datum.value==100000?'10⁵':datum.value==10000?'10⁴':datum.value==1000?'10³':datum.value==0?'0':datum.value==-1000?'-10³':''","tickSize":{"condition":{"test":"indexof([-1000,0,1000,10000,100000],datum.value)>=0","value":4},"value":2},"domain":false,"title":null}},
   "y":{"field":"y","type":"quantitative","scale":{"type":"symlog","constant":400,"domain":[-2000,200000],"nice":false,"zero":false},"axis":{"values":[-1000,-900,-800,-700,-600,-500,-400,-300,-200,-100,0,100,200,300,400,500,600,700,800,900,1000,2000,3000,4000,5000,6000,7000,8000,9000,10000,20000,30000,40000,50000,60000,70000,80000,90000,100000],"labelExpr":"datum.value==100000?'10⁵':datum.value==10000?'10⁴':datum.value==1000?'10³':datum.value==0?'0':datum.value==-1000?'-10³':''","tickSize":{"condition":{"test":"indexof([-1000,0,1000,10000,100000],datum.value)>=0","value":4},"value":2},"domain":false,"title":"CD226","titleAngle":0,"titleAlign":"left","titleBaseline":"middle","titleX":-130,"titleY":45,"titleFontSize":20}}},
  "layer":[
   {"transform":[{"filter":"datum.k=='c'"}],"mark":{"type":"rect","cornerRadius":80},"encoding":{"x2":{"field":"x2"},"y2":{"field":"y2"},"fill":{"field":"lvl","type":"ordinal","scale":{"domain":[0,1,2,3,4,5,6],"range":["#000000","#3a3a3a","#6a6a6a","#9a9a9a","#c4c4c4","#e2e2e2","#fbfbfb"]},"legend":null},"stroke":{"condition":{"test":"datum.lvl==0","value":"#000000"},"value":"#1a1a1a"},"strokeWidth":{"condition":{"test":"datum.lvl==0","value":1.4},"value":0.5}}},
   {"transform":[{"filter":"datum.k=='l'"}],"mark":{"type":"rule","color":"#8a8a8a","strokeWidth":1},"encoding":{"x2":{"field":"x2"}}},
   {"transform":[{"filter":"datum.k=='g'"}],"mark":{"type":"rect","filled":false,"stroke":"#000000","strokeWidth":2.2},"encoding":{"x2":{"field":"x2"},"y2":{"field":"y2"}}},
   {"transform":[{"filter":"datum.k=='t'"}],"mark":{"type":"text","align":"right","baseline":"alphabetic","fontSize":23,"color":"#000000"},"encoding":{"text":{"field":"label"}}}
  ]},
 {"width":146,"height":142,"data":{"name":"dots"},"transform":[{"filter":"datum.p=='CD226 LDN'"}],
  "encoding":{"x":{"field":"x","type":"quantitative","scale":{"type":"symlog","constant":400,"domain":[-2000,140000],"nice":false,"zero":false},"axis":{"values":[-1000,-900,-800,-700,-600,-500,-400,-300,-200,-100,0,100,200,300,400,500,600,700,800,900,1000,2000,3000,4000,5000,6000,7000,8000,9000,10000,20000,30000,40000,50000,60000,70000,80000,90000,100000],"labelExpr":"datum.value==100000?'10⁵':datum.value==10000?'10⁴':datum.value==1000?'10³':datum.value==0?'0':datum.value==-1000?'-10³':''","tickSize":{"condition":{"test":"indexof([-1000,0,1000,10000,100000],datum.value)>=0","value":4},"value":2},"domain":false,"title":null}},
   "y":{"field":"y","type":"quantitative","scale":{"type":"symlog","constant":400,"domain":[-2000,200000],"nice":false,"zero":false},"axis":{"values":[-1000,-900,-800,-700,-600,-500,-400,-300,-200,-100,0,100,200,300,400,500,600,700,800,900,1000,2000,3000,4000,5000,6000,7000,8000,9000,10000,20000,30000,40000,50000,60000,70000,80000,90000,100000],"labelExpr":"datum.value==100000?'10⁵':datum.value==10000?'10⁴':datum.value==1000?'10³':datum.value==0?'0':datum.value==-1000?'-10³':''","tickSize":{"condition":{"test":"indexof([-1000,0,1000,10000,100000],datum.value)>=0","value":4},"value":2},"domain":false,"title":null}}},
  "layer":[
   {"transform":[{"filter":"datum.k=='c'"}],"mark":{"type":"rect","cornerRadius":80},"encoding":{"x2":{"field":"x2"},"y2":{"field":"y2"},"fill":{"field":"lvl","type":"ordinal","scale":{"domain":[0,1,2,3,4,5,6],"range":["#000000","#3a3a3a","#6a6a6a","#9a9a9a","#c4c4c4","#e2e2e2","#fbfbfb"]},"legend":null},"stroke":{"condition":{"test":"datum.lvl==0","value":"#000000"},"value":"#1a1a1a"},"strokeWidth":{"condition":{"test":"datum.lvl==0","value":1.4},"value":0.5}}},
   {"transform":[{"filter":"datum.k=='l'"}],"mark":{"type":"rule","color":"#8a8a8a","strokeWidth":1},"encoding":{"x2":{"field":"x2"}}},
   {"transform":[{"filter":"datum.k=='g'"}],"mark":{"type":"rect","filled":false,"stroke":"#000000","strokeWidth":2.2},"encoding":{"x2":{"field":"x2"},"y2":{"field":"y2"}}},
   {"transform":[{"filter":"datum.k=='t'"}],"mark":{"type":"text","align":"right","baseline":"alphabetic","fontSize":23,"color":"#000000"},"encoding":{"text":{"field":"label"}}}
  ]},
 {"width":147,"height":142,"data":{"name":"hist"},"transform":[{"filter":"datum.p=='CD226'"}],
  "encoding":{"x":{"field":"v","type":"quantitative","scale":{"type":"symlog","constant":300,"domain":[-2740,133000],"nice":false,"zero":false},"axis":{"values":[-1000,-900,-800,-700,-600,-500,-400,-300,-200,-100,0,100,200,300,400,500,600,700,800,900,1000,2000,3000,4000,5000,6000,7000,8000,9000,10000,20000,30000,40000,50000,60000,70000,80000,90000,100000],"labelExpr":"datum.value==100000?'10⁵':datum.value==10000?'10⁴':datum.value==1000?'10³':datum.value==0?'0':datum.value==-1000?'-10³':''","tickSize":{"condition":{"test":"indexof([-1000,0,1000,10000,100000],datum.value)>=0","value":4},"value":2},"domain":false,"title":null}},
   "y":{"field":"c","type":"quantitative","scale":{"domain":[-1.5,105],"nice":false},"axis":{"values":[0,5,10,15,20,25,30,35,40,45,50,55,60,65,70,75,80,85,90,95,100],"labelExpr":"datum.value%20==0?datum.label:''","tickSize":{"condition":{"test":"datum.value%20==0","value":4},"value":2},"domain":false,"title":null}}},
  "layer":[
   {"transform":[{"filter":"datum.s=='marker'"}],"mark":{"type":"area","color":"#def5c9","opacity":1,"line":{"color":"#8fd947","strokeWidth":1.3}}},
   {"transform":[{"filter":"datum.s=='iso'"}],"mark":{"type":"area","color":"#8c8996","opacity":1,"interpolate":"monotone","line":{"color":"#3e1f6e","strokeWidth":1.3}}}
  ]}
]
}
